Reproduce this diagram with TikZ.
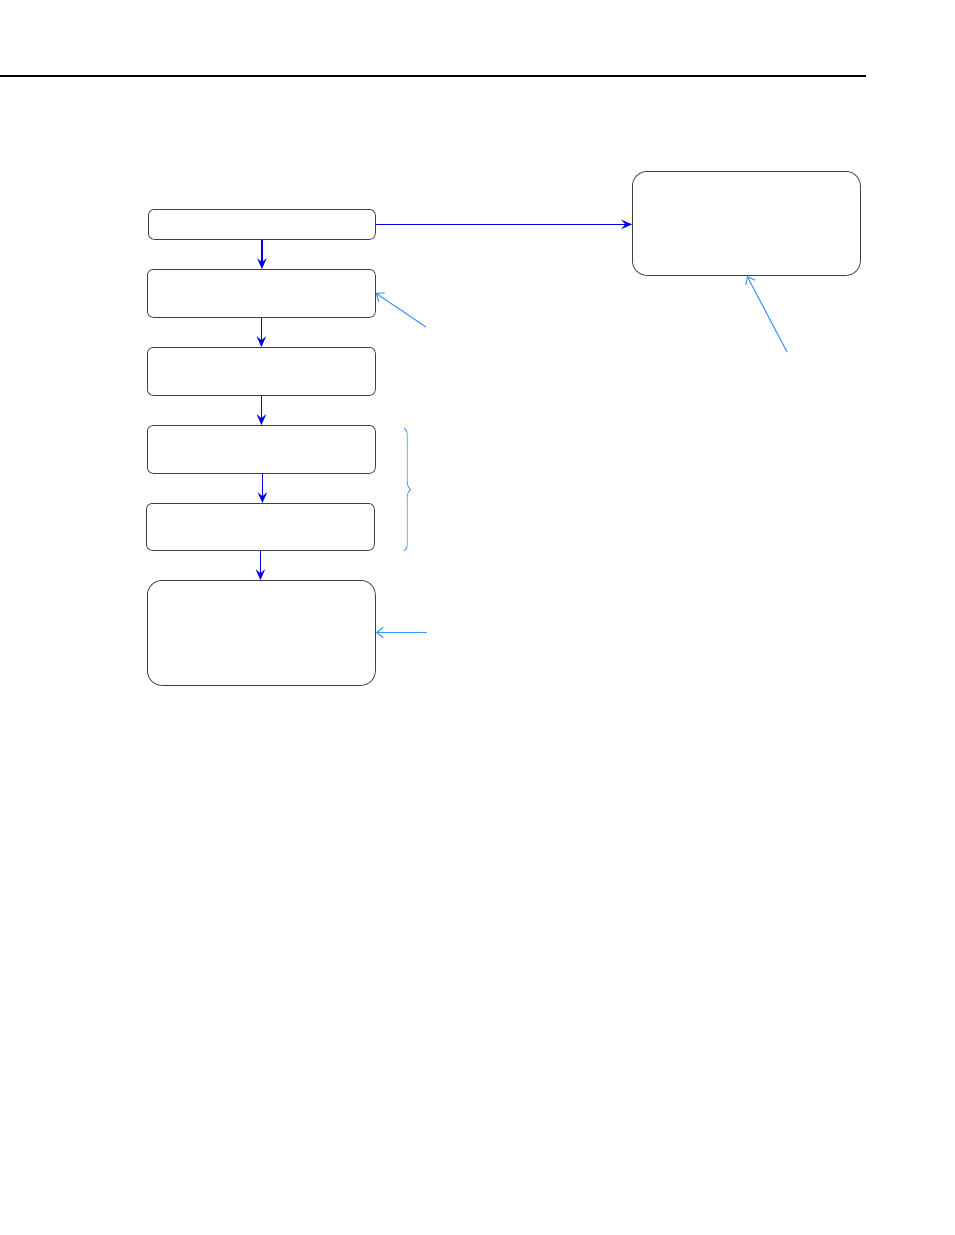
\documentclass[tikz,border=0pt]{standalone}
\usetikzlibrary{arrows.meta,decorations.pathreplacing}
\definecolor{flowblue}{RGB}{0,0,240}
\definecolor{noteblue}{RGB}{60,150,255}
\begin{document}
\begin{tikzpicture}[x=0.75pt,y=-0.75pt,
  box/.style={draw=black!75,line width=0.6pt,rounded corners=4.5pt,inner sep=0pt,anchor=north west},
  bigbox/.style={box,rounded corners=11pt},
  flow/.style={draw=flowblue,line width=0.9pt,-{Stealth[length=8pt,width=7pt,inset=3pt]}},
  note/.style={draw=noteblue,line width=0.8pt,-{Straight Barb[length=5pt,width=8pt]}}]
\useasboundingbox (0,0) rectangle (954,1235);
\draw[line width=0.8pt] (0,76) -- (866,76);
\node[box,minimum width=227*0.75pt,minimum height=30*0.75pt] (b1) at (148,209) {};
\node[box,minimum width=228*0.75pt,minimum height=48*0.75pt] (b2) at (147,269) {};
\node[box,minimum width=228*0.75pt,minimum height=48*0.75pt] (b3) at (147,347) {};
\node[box,minimum width=228*0.75pt,minimum height=48*0.75pt] (b4) at (147,425) {};
\node[box,minimum width=228*0.75pt,minimum height=47*0.75pt] (b5) at (146,503) {};
\node[bigbox,minimum width=228*0.75pt,minimum height=105*0.75pt] (b6) at (147,580) {};
\node[bigbox,minimum width=228*0.75pt,minimum height=104*0.75pt] (r1) at (632,171) {};
\draw[flow] (b1.south) -- (b1.south |- b2.north);
\draw[flow] (b2.south) -- (b2.south |- b3.north);
\draw[flow] (b3.south) -- (b3.south |- b4.north);
\draw[flow] ([xshift=0.75pt]b4.south) -- ([xshift=0.75pt]b4.south |- b5.north);
\draw[flow] (b5.south) -- (b5.south |- b6.north);
\draw[flow] (b1.east) -- (b1.east -| r1.west);
\coordinate (n1) at (426,327);
\coordinate (n2) at (787,352);
\coordinate (n3) at (427,632.5);
\coordinate (t1) at (375.5,293);
\coordinate (t2) at (747,276);
\draw[note] (n1) -- (t1);
\draw[note] (n2) -- (t2);
\draw[note] (n3) -- (n3 -| b6.east);
\coordinate (br1) at (404,428);
\coordinate (br2) at (404,551);
\draw[noteblue,line width=0.6pt,decorate,decoration={brace,amplitude=5pt}] (br1) -- (br2);
\end{tikzpicture}
\end{document}
